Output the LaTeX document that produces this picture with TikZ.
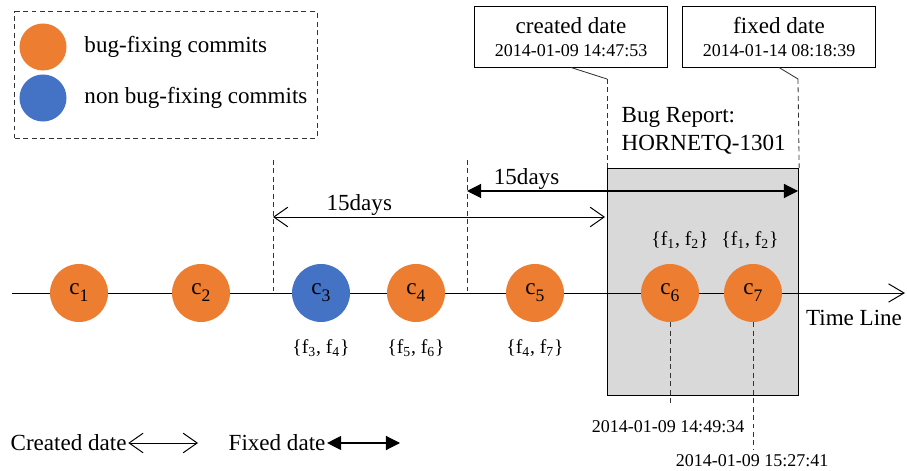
\documentclass[tikz,border=0pt]{standalone}
\usepackage{fontspec}
\setmainfont{Liberation Serif}
\usepackage{tikz}
\usetikzlibrary{arrows.meta}
\usetikzlibrary{positioning}
\definecolor{fixorange}{HTML}{ED7D31}
\definecolor{nonfixblue}{HTML}{4472C4}
\definecolor{bugfill}{HTML}{D9D9D9}
\newcommand{\bigtxt}{\fontsize{16.4}{19.5}\selectfont}
\newcommand{\datetxt}{\fontsize{12.8}{15}\selectfont}
\newcommand{\settxt}{\fontsize{14}{16}\selectfont}
\newcommand{\csub}[1]{c\raisebox{-0.3em}{\fontsize{12.5}{12.5}\selectfont #1}}
\tikzset{
commit/.style={
	circle,
	minimum size=1.45cm,
	inner sep=0pt,
	fill=fixorange,
	font=\bigtxt
},
plain/.style={
	inner sep=1pt,
	font=\bigtxt
},
fset/.style={
	inner sep=1pt,
	font=\settxt
},
datebox/.style={
	rectangle,
	draw=black,
	line width=0.7pt,
	minimum width=4.8cm,
	minimum height=1.5cm,
	align=center,
	font=\bigtxt
},
legendbox/.style={
	rectangle,
	draw=black!80,
	line width=0.7pt,
	dash pattern=on 3.5pt off 2.5pt,
	minimum width=7.55cm,
	minimum height=3.15cm
},
bugbox/.style={
	rectangle,
	draw=black,
	line width=0.8pt,
	fill=bugfill
},
guide/.style={
	draw=black!80,
	line width=0.6pt,
	dash pattern=on 3.5pt off 2.5pt
},
callout/.style={
	draw=black!80,
	line width=0.6pt
},
createdarrow/.style={
	line width=0.7pt,
	{Straight Barb[length=10pt,width=14pt]}-{Straight Barb[length=10pt,width=14pt]}
},
fixedarrow/.style={
	line width=0.8pt,
	{Triangle[length=10pt,width=10pt]}-{Triangle[length=10pt,width=10pt]}
},
timearrow/.style={
	line width=0.7pt,
	-{Straight Barb[length=11pt,width=13pt]}
}
}
\begin{document}
\begin{tikzpicture}[x=0.025cm, y=-0.025cm]
\useasboundingbox (0,0) rectangle (907,471);

% legend
\node (legend) [legendbox] at (166,75) {};
\node (lgfix) [commit, minimum size=1.175cm] at (43,47) {};
\node (lgnon) [commit, fill=nonfixblue, minimum size=1.175cm] at (43,98) {};
\node (lgfixtxt) [plain, right=0.4cm of lgfix] {bug-fixing commits};
\node (lgnontxt) [plain, right=0.4cm of lgnon] {non bug-fixing commits};

% bug report
\node (bugarea) [bugbox, minimum width=4.775cm, minimum height=5.675cm, anchor=north west] at (607,168) {};
\node (bugname) [plain, align=left, anchor=west] at (620,131) {Bug Report:\\HORNETQ-1301};

\node (created) [datebox] at (571,37) {created date\\[-3pt]{\datetxt 2014-01-09 14:47:53}};
\node (fixed) [datebox] at (779,37) {fixed date\\[-3pt]{\datetxt 2014-01-14 08:18:39}};
\coordinate (crkink) at (607,79);
\coordinate (fxkink) at (798,79);
\draw [callout] (created.south) -- (crkink);
\draw [guide] (crkink) -- (bugarea.north west);
\draw [callout] (fixed.south) -- (fxkink);
\draw [guide] (fxkink) -- (bugarea.north east);

% 15 days windows
\coordinate (w1top) at (273,160);
\coordinate (w1bot) at (273,291);
\coordinate (w2top) at (467,160);
\coordinate (w2bot) at (467,291);
\draw [guide] (w1top) -- (w1bot);
\draw [guide] (w2top) -- (w2bot);

\coordinate (caleft) at (273,217);
\coordinate (caright) at (605,217);
\draw [createdarrow] (caleft) -- node[pos=0.26, above, plain] {15days} (caright);
\coordinate (faleft) at (467,191);
\coordinate (faright) at (798,191);
\draw [fixedarrow] (faleft) -- node[pos=0.18, above, plain] {15days} (faright);

% time line
\coordinate (tlstart) at (12,293);
\coordinate (tlend) at (905,293);
\draw [timearrow] (tlstart) -- (tlend);
\node (tllabel) [plain] at (854,318) {Time Line};

% commits
\node (c1) [commit] at (79,293) {\csub{1}};
\node (c2) [commit] at (201,293) {\csub{2}};
\node (c3) [commit, fill=nonfixblue] at (321,293) {\csub{3}};
\node (c4) [commit] at (416,293) {\csub{4}};
\node (c5) [commit] at (535,293) {\csub{5}};
\node (c6) [commit] at (670,293) {\csub{6}};
\node (c7) [commit] at (753,293) {\csub{7}};

\node (f3) [fset, below=0.38cm of c3] {\{f\textsubscript{3}, f\textsubscript{4}\}};
\node (f4) [fset, below=0.38cm of c4] {\{f\textsubscript{5}, f\textsubscript{6}\}};
\node (f5) [fset, below=0.38cm of c5] {\{f\textsubscript{4}, f\textsubscript{7}\}};
\node (f6) [fset] at (680,240) {\{f\textsubscript{1}, f\textsubscript{2}\}};
\node (f7) [fset] at (750,240) {\{f\textsubscript{1}, f\textsubscript{2}\}};

% commit dates
\coordinate (c6end) at (670,405);
\coordinate (c7end) at (753,450);
\draw [guide] (c6.south) -- (c6end);
\draw [guide] (c7.south) -- (c7end);
\node (d6) [plain, font=\datetxt] at (668,427) {2014-01-09 14:49:34};
\node (d7) [plain, font=\datetxt] at (752,461) {2014-01-09 15:27:41};

% arrow legend
\node (crlegend) [plain, anchor=west] at (9,443) {Created date};
\coordinate (crlegendend) at (198,443);
\draw [createdarrow] (crlegend.east) -- (crlegendend);
\node (fxlegend) [plain, anchor=west] at (227,443) {Fixed date};
\coordinate (fxlegendend) at (400,443);
\draw [fixedarrow] (fxlegend.east) -- (fxlegendend);

\end{tikzpicture}
\end{document}
